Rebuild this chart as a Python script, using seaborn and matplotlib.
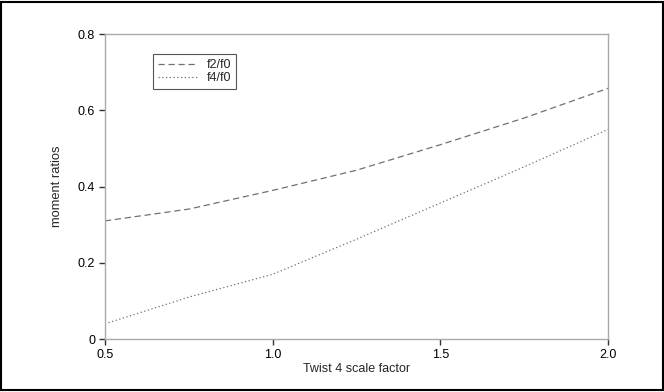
import matplotlib
matplotlib.use("Agg")
import matplotlib.pyplot as plt
import seaborn as sns
import pandas as pd
from matplotlib.patches import Rectangle

scale = [0.5, 0.75, 1.0, 1.25, 1.5, 1.75, 2.0]
f2_f0 = [0.31, 0.341, 0.39, 0.443, 0.51, 0.58, 0.658]
f4_f0 = [0.04, 0.11, 0.17, 0.262, 0.357, 0.452, 0.55]
x_ticks = [0.5, 1.0, 1.5, 2.0]
x_tick_labels = ["0.5", "1.0", "1.5", "2.0"]
y_ticks = [0, 0.2, 0.4, 0.6, 0.8]
y_tick_labels = ["0", "0.2", "0.4", "0.6", "0.8"]

sns.set_style("white")
plt.rcParams['font.family'] = ['Liberation Sans', 'DejaVu Sans']

df = pd.DataFrame({"x": scale + scale,
                   "y": f2_f0 + f4_f0,
                   "series": ["f2/f0"] * len(scale) + ["f4/f0"] * len(scale)})

fig = plt.figure(figsize=(6.64, 3.92), dpi=100)
ax = fig.add_axes([0.158, 0.135, 0.758, 0.778])

sns.lineplot(data=df[df.series == "f2/f0"], x="x", y="y", ax=ax, color="#707070",
             linewidth=0.9, linestyle=(0, (5, 3)), label="f2/f0")
sns.lineplot(data=df[df.series == "f4/f0"], x="x", y="y", ax=ax, color="#707070",
             linewidth=0.9, linestyle=(0, (1, 2)), label="f4/f0")

ax.set_xlim(0.5, 2.0)
ax.set_ylim(0, 0.8)
ax.set_xticks(x_ticks)
ax.set_xticklabels(x_tick_labels)
ax.set_yticks(y_ticks)
ax.set_yticklabels(y_tick_labels)
ax.tick_params(direction="out", length=4, width=1, color="#333333", labelsize=9,
               labelcolor="black", pad=3, bottom=True, left=True)
for s in ax.spines.values():
    s.set_color("#aaaaaa")
    s.set_linewidth(1)
ax.set_xlabel("Twist 4 scale factor", fontsize=9, labelpad=1.5)
ax.set_ylabel("moment ratios", fontsize=9.3, labelpad=11)

leg = ax.legend(loc="upper left", bbox_to_anchor=(0.0954, 0.934), fontsize=9,
                frameon=True, fancybox=False, framealpha=1, edgecolor="#555555",
                handlelength=3.2, handletextpad=0.7, borderpad=0.4, labelspacing=0.1,
                borderaxespad=0)
leg.get_frame().set_linewidth(0.8)

fig.patches.append(Rectangle((0.002, 0.004), 0.996, 0.992, transform=fig.transFigure,
                             fill=False, edgecolor="black", linewidth=1.5))

fig.savefig("out.png", dpi=100)
